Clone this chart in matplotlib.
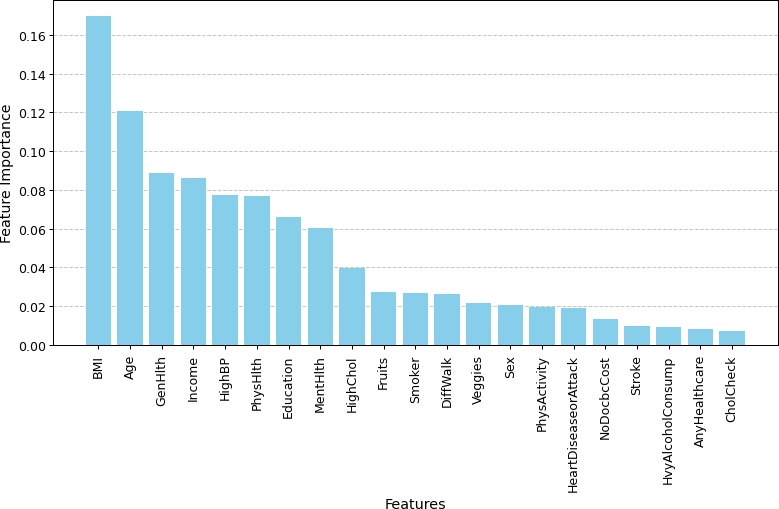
import numpy as np
import matplotlib
matplotlib.use("Agg")
import matplotlib.pyplot as plt

# Признаки и их важность
features = ["BMI", "Age", "GenHlth", "Income", "HighBP", "PhysHlth", "Education",
            "MentHlth", "HighChol", "Fruits", "Smoker", "DiffWalk", "Veggies", "Sex",
            "PhysActivity", "HeartDiseaseorAttack", "NoDocbcCost", "Stroke",
            "HvyAlcoholConsump", "AnyHealthcare", "CholCheck"]
importance = [0.1698, 0.1208, 0.0889, 0.0862, 0.0774, 0.0771, 0.0661,
              0.0604, 0.0396, 0.0272, 0.0268, 0.0265, 0.0215, 0.0206,
              0.0198, 0.0189, 0.0133, 0.0097, 0.0091, 0.0083, 0.0071]

plt.rcParams["axes.linewidth"] = 0.72
plt.rcParams["xtick.major.size"] = 3.15
plt.rcParams["ytick.major.size"] = 3.15
plt.rcParams["xtick.major.width"] = 0.72
plt.rcParams["ytick.major.width"] = 0.72

fig = plt.figure(figsize=(7.79, 5.10), dpi=100)
ax = fig.add_axes([52.5 / 779, 1 - 346 / 510, (778 - 52.5) / 779, 345.5 / 510])

x = np.arange(len(features))
ax.bar(x, importance, color="skyblue", width=0.8)
ax.set_xticks(x)
ax.set_xticklabels(features, rotation=90, fontsize=9)
ax.tick_params(axis="y", labelsize=9, pad=1.6)
ax.set_xlim(-1.45, 21.45)
ax.set_xlabel("Features", fontsize=10.4)
ax.set_ylabel("Feature Importance", fontsize=10.2, labelpad=2.6)
ax.grid(axis="y", linestyle="--", alpha=0.7, linewidth=0.72)
ax.set_axisbelow(True)

fig.savefig("out.png", dpi=100)
